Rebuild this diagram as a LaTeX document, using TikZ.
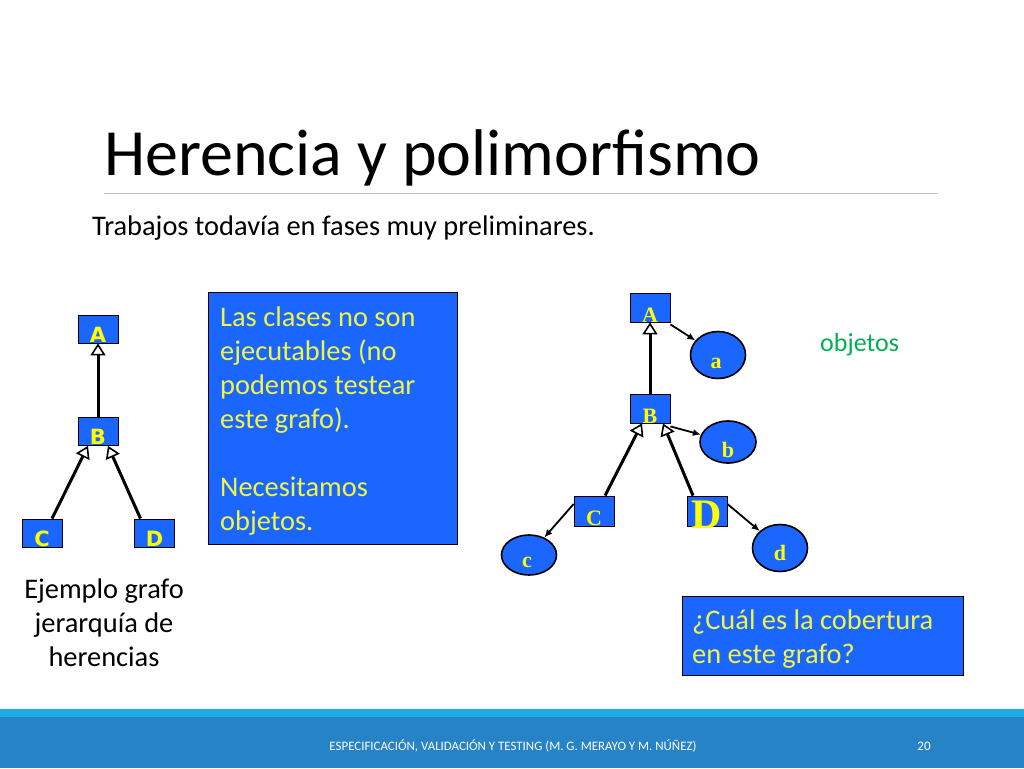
\documentclass[tikz,border=0pt]{standalone}
\usepackage{fontspec}
\setmainfont{Carlito}
\newfontfamily\timesf{Liberation Serif}
\newfontfamily\dejav{DejaVu Sans}
\usetikzlibrary{arrows.meta,shapes.geometric,calc}
\definecolor{blueF}{RGB}{26,102,255}
\definecolor{ylw}{RGB}{255,255,0}
\definecolor{boxtxt}{RGB}{240,245,70}
\definecolor{objgreen}{RGB}{0,176,80}
\definecolor{footlight}{RGB}{28,173,228}
\definecolor{footdark}{RGB}{38,131,198}
\definecolor{rulegray}{RGB}{191,191,191}
\tikzset{
  lbox/.style={draw=black, line width=0.8, fill=blueF, minimum width=40, minimum height=28, inner sep=0},
  rbox/.style={draw=black, line width=0.8, fill=blueF, minimum width=40, minimum height=29, inner sep=0},
  objell/.style={ellipse, draw=black, line width=1.6, fill=blueF, inner sep=0},
  lletter/.style={anchor=base, inner sep=0, text=ylw, font=\dejav\bfseries\fontsize{21}{21}\selectfont},
  rletter/.style={anchor=base, inner sep=0, text=ylw, font=\timesf\bfseries\fontsize{22}{22}\selectfont},
  inh/.style={line width=3, -{Triangle[open, length=12, width=15, line width=1.6]}},
  objarr/.style={line width=1.8, -{Latex[length=8, width=7]}},
  txtbox/.style={draw=black, line width=1.2, fill=blueF, anchor=north west, inner sep=0},
  boxtext/.style={anchor=base west, inner sep=0, align=left, text=boxtxt, font=\fontsize{28.4}{34}\selectfont}
}
\begin{document}
\begin{tikzpicture}[x=1pt,y=-1pt]
\useasboundingbox (0,0) rectangle (1024,768);
\fill[white] (0,0) rectangle (1024,768);
% footer
\fill[footlight] (0,709) rectangle (1024,717);
\fill[footdark] (0,717) rectangle (1024,768);
\node[anchor=base, inner sep=0, text=white, font=\fontsize{12.9}{13}\selectfont] (foot) at (513,750) {ESPECIFICACIÓN, VALIDACIÓN Y TESTING (M. G. MERAYO Y M. NÚÑEZ)};
\node[anchor=base, inner sep=0, text=white, font=\fontsize{13}{13}\selectfont] (pnum) at (924,750) {20};
% title
\node[anchor=base west, inner sep=0, font=\fontsize{66}{72}\selectfont] (title) at (104,175) {Herencia y polimorfismo};
\draw[rulegray, line width=1] (104,193) -- (938,193);
\node[anchor=base west, inner sep=0, font=\fontsize{28.4}{34}\selectfont] (sub) at (92,235) {Trabajos todavía en fases muy preliminares.};
% left graph
\node[lbox] (lA) at (98,329) {};
\node[lbox] (lB) at (98,431.5) {};
\node[lbox] (lC) at (42,533) {};
\node[lbox] (lD) at (154.5,533) {};
\node[lletter] (lAt) at (98,342) {A};
\node[lletter] (lBt) at (98,444) {B};
\node[lletter] (lCt) at (42,546) {C};
\node[lletter] (lDt) at (154.5,546) {D};
\draw[inh] (lB.north) -- (lA.south);
\draw[inh] ([xshift=10]lC.north) -- ([xshift=-10]lB.south);
\draw[inh] ([xshift=-14]lD.north) -- ([xshift=10]lB.south);
\node[anchor=base, inner sep=0, align=center, font=\fontsize{28.4}{34}\selectfont] (cap) at (104,666) {Ejemplo grafo\\jerarquía de\\herencias};
% middle text box
\node[txtbox, minimum width=249, minimum height=252] (mbox) at (208,292) {};
\node[boxtext] (mtext) at (220,530) {Las clases no son\\ejecutables (no\\podemos testear\\este grafo).\\[34pt]Necesitamos\\objetos.};
% right graph
\node[rbox] (rA) at (650,307.5) {};
\node[rbox] (rB) at (650,408.5) {};
\node[rbox, minimum height=30] (rC) at (594,511) {};
\node[rbox, minimum height=30] (rD) at (707,511) {};
\node[objell, minimum width=55, minimum height=47] (ra) at (718,355) {};
\node[objell, minimum width=56, minimum height=42] (rb) at (728,442) {};
\node[objell, minimum width=55, minimum height=40] (rc) at (529,555) {};
\node[objell, minimum width=55, minimum height=47] (rd) at (780,548) {};
\node[rletter] (rAt) at (650,322) {A};
\node[rletter] (rBt) at (650,423) {B};
\node[rletter] (rCt) at (594,525) {C};
\node[rletter, font=\timesf\bfseries\fontsize{42}{42}\selectfont] (rDt) at (707,528) {D};
\node[rletter] (rat) at (716,368) {a};
\node[rletter] (rbt) at (728,457) {b};
\node[rletter] (rct) at (527,567) {c};
\node[rletter] (rdt) at (780,560) {d};
\draw[inh] (rB.north) -- (rA.south);
\draw[inh] ([xshift=11]rC.north) -- ([xshift=-8]rB.south);
\draw[inh] ([xshift=-14]rD.north) -- ([xshift=13]rB.south);
\draw[objarr] ([yshift=-2]rA.south east) -- (ra);
\draw[objarr] ([yshift=-3]rB.south east) -- (rb);
\draw[objarr] ([yshift=7]rC.west) -- (rc);
\draw[objarr] ([yshift=7]rD.east) -- (rd);
\node[anchor=base west, inner sep=0, text=objgreen, font=\fontsize{26}{30}\selectfont] (obj) at (820,351) {objetos};
% bottom right box
\node[txtbox, minimum width=281, minimum height=79] (qbox) at (682,596) {};
\node[boxtext] (qtext) at (692,663) {¿Cuál es la cobertura\\en este grafo?};
\end{tikzpicture}
\end{document}
